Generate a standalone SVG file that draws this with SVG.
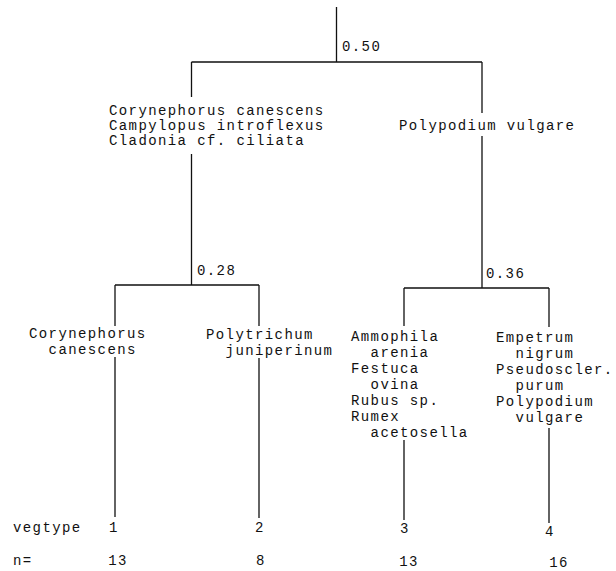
<svg xmlns="http://www.w3.org/2000/svg" width="616" height="571" viewBox="0 0 616 571">
<style>
text{font-family:"Liberation Mono","DejaVu Sans Mono",monospace;font-size:14px;letter-spacing:1.4px;fill:#111}
.m{text-anchor:middle}
#connectors path{stroke:#111;stroke-width:1.3;fill:none}
</style>
<rect width="616" height="571" fill="#fff"/>
<g id="connectors">
<path d="M336.5 7V62M191.5 62H482"/>
<path d="M191.5 62V97M191.5 154V285"/>
<path d="M482 62V113M482 136V288"/>
<path d="M115 285H259M115 285V326M115 357V517M259 285V326M259 358V518"/>
<path d="M404 288H549M404 288V326M404 440V520M549 288V327M549 428V523"/>
</g>
<g id="split-root"><text x="342" y="51">0.50</text></g>
<g id="node-left">
<text><tspan x="109" y="115">Corynephorus canescens</tspan><tspan x="109" y="130">Campylopus introflexus</tspan><tspan x="109" y="145">Cladonia cf. ciliata</tspan></text>
</g>
<g id="node-right"><text x="399" y="130">Polypodium vulgare</text></g>
<g id="split-left"><text x="197" y="275">0.28</text></g>
<g id="split-right"><text x="486" y="278">0.36</text></g>
<g id="leaf-1">
<text><tspan x="29" y="338">Corynephorus</tspan><tspan x="48.6" y="354">canescens</tspan></text>
</g>
<g id="leaf-2">
<text><tspan x="206" y="339">Polytrichum</tspan><tspan x="225.6" y="355">juniperinum</tspan></text>
</g>
<g id="leaf-3">
<text><tspan x="351" y="341">Ammophila</tspan><tspan x="370.6" y="357">arenia</tspan><tspan x="351" y="373">Festuca</tspan><tspan x="370.6" y="389">ovina</tspan><tspan x="351" y="405">Rubus sp.</tspan><tspan x="351" y="421">Rumex</tspan><tspan x="370.6" y="437">acetosella</tspan></text>
</g>
<g id="leaf-4">
<text><tspan x="496" y="342">Empetrum</tspan><tspan x="515.6" y="358">nigrum</tspan><tspan x="496" y="374">Pseudoscler.</tspan><tspan x="515.6" y="390">purum</tspan><tspan x="496" y="406">Polypodium</tspan><tspan x="515.6" y="422">vulgare</tspan></text>
</g>
<g id="table">
<text x="13" y="532">vegtype</text>
<text x="13" y="565">n=</text>
<text class="m" x="114" y="532">1</text>
<text class="m" x="260" y="532">2</text>
<text class="m" x="405" y="533">3</text>
<text class="m" x="550" y="536">4</text>
<text class="m" x="118" y="565">13</text>
<text class="m" x="261" y="565">8</text>
<text class="m" x="409" y="566">13</text>
<text class="m" x="559" y="567">16</text>
</g>
</svg>
